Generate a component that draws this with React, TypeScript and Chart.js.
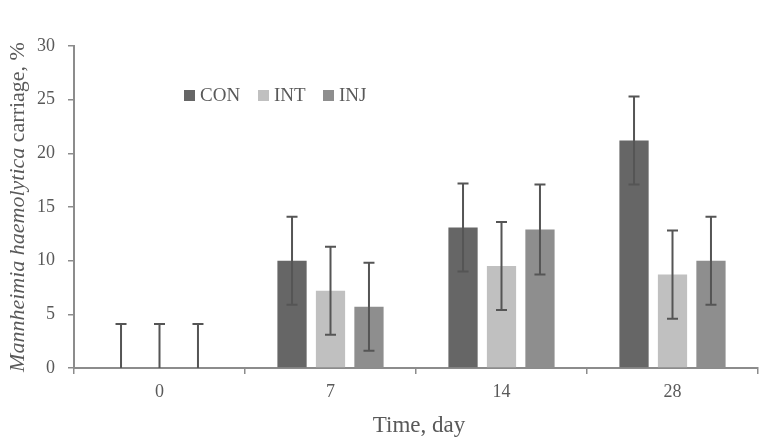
import React, { useEffect, useRef } from "react";
import { Chart, registerables } from "chart.js";

Chart.register(...registerables);

const categories = ["0", "7", "14", "28"];
const seriesNames = ["CON", "INT", "INJ"];
const conValues = [0, 10.0, 13.1, 21.2];
const intValues = [0, 7.2, 9.5, 8.7];
const injValues = [0, 5.7, 12.9, 10.0];
const conErr = [4.1, 4.1, 4.1, 4.1];
const intErr = [4.1, 4.1, 4.1, 4.1];
const injErr = [4.1, 4.1, 4.2, 4.1];
const yTicks = [0, 5, 10, 15, 20, 25, 30];

const colors = ["#666666", "#c0c0c0", "#8e8e8e"];
const FONT = "'Liberation Serif', 'DejaVu Serif', serif";
const TEXT = "#595959";
const AXIS = "#8c8c8c";

const errorBarPlugin = {
  id: "errorBars",
  afterDatasetsDraw(chart: any) {
    const ctx = chart.ctx;
    const yScale = chart.scales.y;
    ctx.save();
    ctx.strokeStyle = "#555555";
    ctx.lineWidth = 2;
    chart.data.datasets.forEach((ds: any, i: number) => {
      const meta = chart.getDatasetMeta(i);
      meta.data.forEach((el: any, j: number) => {
        const v = ds.data[j];
        const e = ds.errors[j];
        const x = el.x;
        const lo = Math.max(0, v - e);
        const yTop = yScale.getPixelForValue(v + e);
        const yBot = yScale.getPixelForValue(lo);
        ctx.beginPath();
        ctx.moveTo(x, yTop);
        ctx.lineTo(x, yBot);
        ctx.moveTo(x - 5.5, yTop);
        ctx.lineTo(x + 5.5, yTop);
        if (v - e > 0) {
          ctx.moveTo(x - 5.5, yBot);
          ctx.lineTo(x + 5.5, yBot);
        }
        ctx.stroke();
      });
    });
    ctx.restore();
  },
  afterDraw(chart: any) {
    const ctx = chart.ctx;
    const area = chart.chartArea;
    ctx.save();
    // Legend
    const legendX = [184, 258, 323];
    ctx.font = `19px ${FONT}`;
    ctx.textBaseline = "middle";
    ctx.textAlign = "left";
    chart.data.datasets.forEach((ds: any, i: number) => {
      ctx.fillStyle = ds.backgroundColor;
      ctx.fillRect(legendX[i], 90, 11, 11);
      ctx.fillStyle = TEXT;
      ctx.fillText(ds.label, legendX[i] + 16, 96);
    });
    // X title
    ctx.font = `23px ${FONT}`;
    ctx.textAlign = "center";
    ctx.textBaseline = "alphabetic";
    ctx.fillStyle = TEXT;
    ctx.fillText("Time, day", (area.left + area.right) / 2 + 3, 432);
    // Y title (mixed italic)
    const part1 = "Mannheimia haemolytica";
    const part2 = " carriage, %";
    ctx.font = `italic 22px ${FONT}`;
    const w1 = ctx.measureText(part1).width;
    ctx.font = `22px ${FONT}`;
    const w2 = ctx.measureText(part2).width;
    const total = w1 + w2;
    ctx.translate(24, (area.top + area.bottom) / 2);
    ctx.rotate(-Math.PI / 2);
    ctx.textAlign = "left";
    ctx.textBaseline = "alphabetic";
    ctx.font = `italic 22px ${FONT}`;
    ctx.fillText(part1, -total / 2, 0);
    ctx.font = `22px ${FONT}`;
    ctx.fillText(part2, -total / 2 + w1, 0);
    ctx.restore();
  },
};

export default function App() {
  const ref = useRef<HTMLCanvasElement | null>(null);
  useEffect(() => {
    document.body.style.margin = "0";
    if (!ref.current) return;
    const valueSets = [conValues, intValues, injValues];
    const errSets = [conErr, intErr, injErr];
    const chart = new Chart(ref.current, {
      type: "bar",
      data: {
        labels: categories,
        datasets: seriesNames.map((name, i) => ({
          label: name,
          data: valueSets[i],
          errors: errSets[i],
          backgroundColor: colors[i],
          borderWidth: 0,
          categoryPercentage: 0.675,
          barPercentage: 0.76,
        })) as any,
      },
      options: {
        responsive: false,
        animation: false,
        layout: { padding: { left: 0, right: 10, top: 46, bottom: 0 } },
        plugins: { legend: { display: false }, tooltip: { enabled: false } },
        scales: {
          x: {
            afterFit(scale: any) {
              scale.height = 76;
            },
            grid: {
              drawOnChartArea: false,
              drawTicks: true,
              tickLength: 6,
              color: AXIS,
              lineWidth: 1.5,
              offset: true,
            },
            border: { color: AXIS, width: 2 },
            ticks: { color: TEXT, font: { family: FONT, size: 18 }, padding: 7 },
          },
          y: {
            min: 0,
            max: 30,
            afterFit(scale: any) {
              scale.width = 74;
            },
            afterBuildTicks(scale: any) {
              scale.ticks = yTicks.map((v) => ({ value: v }));
            },
            grid: {
              drawOnChartArea: false,
              drawTicks: true,
              tickLength: 6,
              color: AXIS,
              lineWidth: 1.5,
            },
            border: { color: AXIS, width: 2 },
            ticks: { color: TEXT, font: { family: FONT, size: 18 }, padding: 13 },
          },
        },
      },
      plugins: [errorBarPlugin],
    });
    return () => chart.destroy();
  }, []);
  return (
    <div style={{ width: 768, height: 444 }}>
      <canvas ref={ref} width={768} height={444} />
    </div>
  );
}
